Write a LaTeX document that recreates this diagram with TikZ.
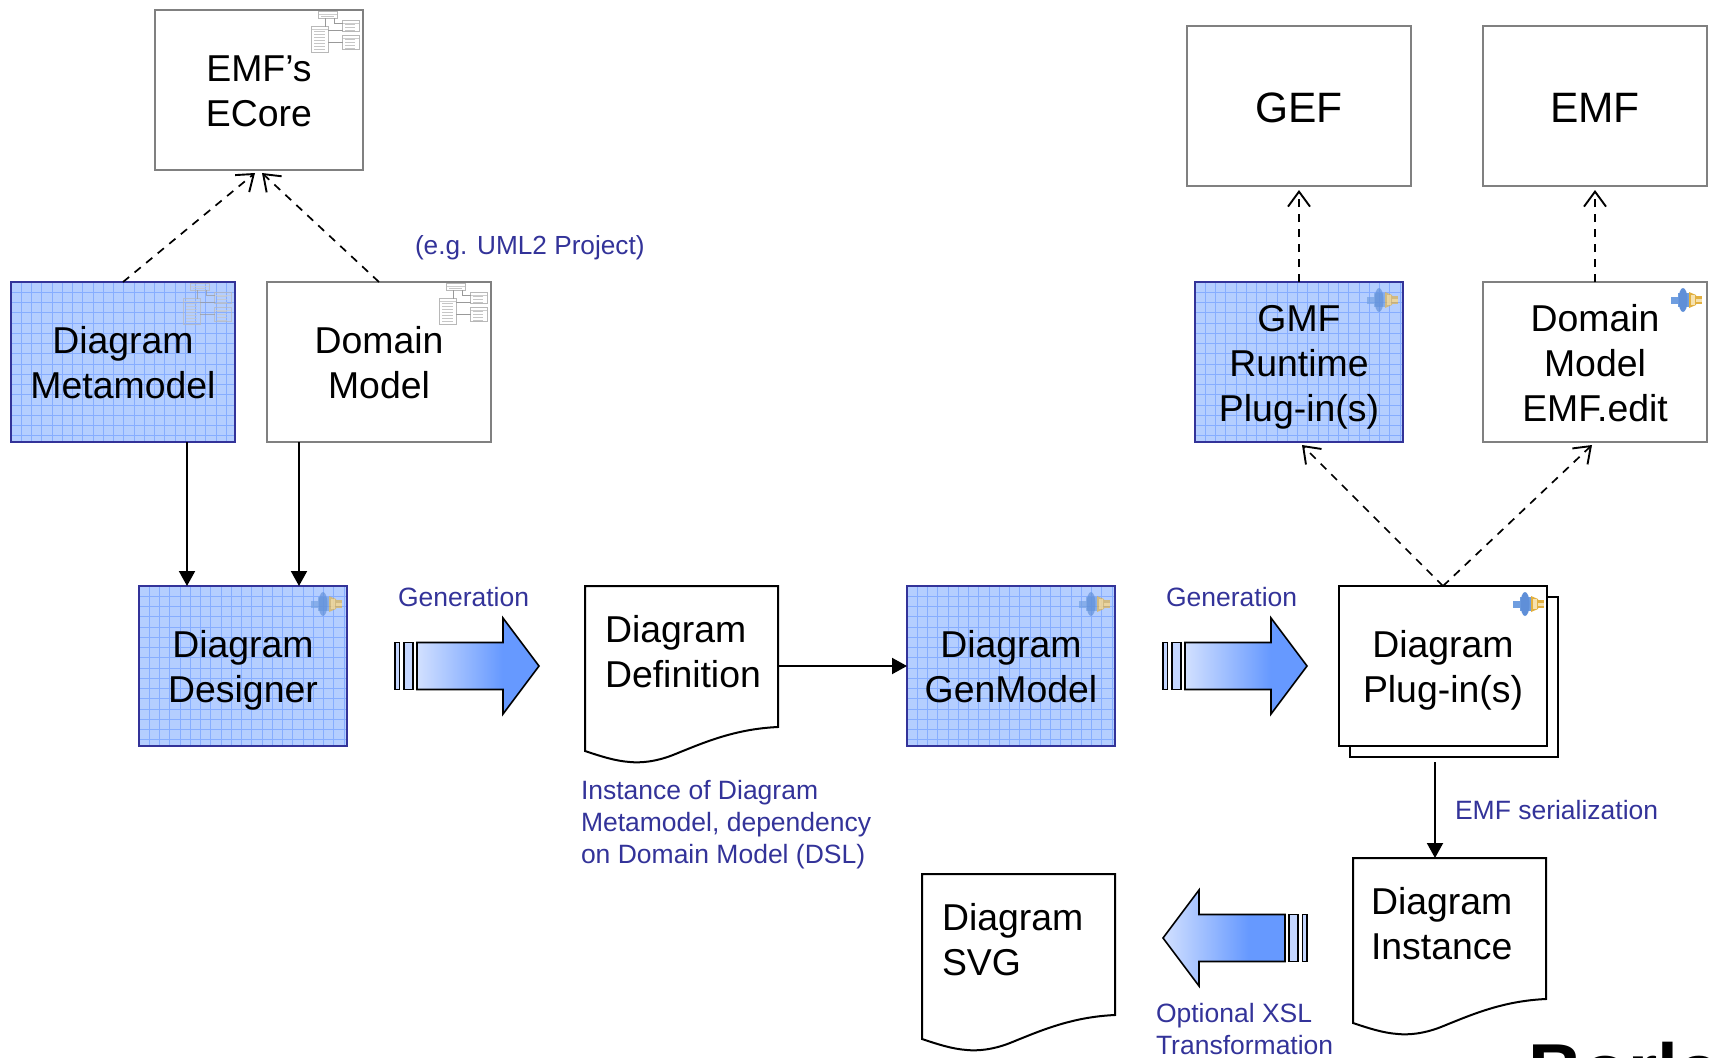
\documentclass[tikz,border=0pt]{standalone}
\usepackage{fontspec}
\setmainfont{Liberation Sans}
\usetikzlibrary{arrows.meta,calc}
\definecolor{lbl}{HTML}{333399}
\definecolor{bluefill}{HTML}{B4CEFF}
\definecolor{gridc}{HTML}{86ADFF}
\definecolor{frameg}{HTML}{808080}
\definecolor{shadeA}{HTML}{D2E0FF}
\definecolor{shadeB}{HTML}{6699FF}
\definecolor{stripc}{HTML}{C4D6FF}
\definecolor{plugA}{HTML}{6F9EE0}
\definecolor{plugB}{HTML}{5F8FD8}
\definecolor{plugC}{HTML}{E2B040}
\definecolor{plugD}{HTML}{F6E2B0}
\definecolor{umlg}{HTML}{B8B8B8}
\pgfdeclarehorizontalshading{blockshade}{100bp}{color(0bp)=(shadeA); color(25bp)=(shadeA); color(60bp)=(shadeB); color(100bp)=(shadeB)}
\newcommand\tp[1]{\rule{0pt}{#1pt}}
\newcommand\bt[1]{\rule[-#1pt]{0pt}{#1pt}}
\newcommand\dl{\hspace*{9.5pt}}
\newcommand\umlf{white}
\tikzset{
  x=1pt,y=-1pt,
  base box/.style={rectangle,inner sep=0pt,outer sep=0pt,minimum height=160pt,
    font=\fontsize{37.4}{45}\selectfont,align=center},
  graybox/.style={base box,draw=frameg,line width=2pt,fill=white},
  bluebox/.style={base box,draw=lbl,line width=2.5pt,fill=bluefill,
    path picture={
      \foreach \i in {1,...,21}{
        \draw[gridc,line width=.8pt] ([xshift=\i*10.25pt]path picture bounding box.north west) -- ([xshift=\i*10.25pt]path picture bounding box.south west);}
      \foreach \i in {1,...,15}{
        \draw[gridc,line width=.8pt] ([yshift=-\i*10.25pt]path picture bounding box.north west) -- ([yshift=-\i*10.25pt]path picture bounding box.north east);}
    }},
  pagebox/.style={base box,draw=black,line width=2pt,fill=white},
  docframe/.style={base box,minimum width=193pt,align=left,text width=172pt},
  note/.style={inner sep=0pt,outer sep=0pt,text=lbl,align=left,anchor=west,
    font=\fontsize{26.5}{32}\selectfont},
  solidarrow/.style={draw=black,line width=2pt,-{Triangle[length=15pt,width=16pt]}},
  deparrow/.style={draw=black,line width=1.7pt,dash pattern=on 8pt off 7pt,
    -{Straight Barb[length=15pt,width=22pt,line width=1.9pt]}},
  docshape/.pic={
    \draw[black,line width=2pt,fill=white] (0,0) -- (193,0) -- (193,141)
      .. controls (150,143) and (120,156) .. (88,169)
      .. controls (70,176) and (55,177) .. (45,176)
      .. controls (30,175) and (15,170) .. (0,165) -- cycle;
  },
  blockarrow/.pic={
    \draw[black,line width=1.6pt,fill=stripc] (0,-23.5) rectangle (4.5,23.5);
    \draw[black,line width=1.6pt,fill=stripc] (9,-23.5) rectangle (18,23.5);
    \draw[black,line width=1.6pt,shading=blockshade]
      (22,-23.5) -- (108,-23.5) -- (108,-48) -- (144,0) -- (108,48) -- (108,23.5) -- (22,23.5) -- cycle;
  },
  umlicon/.pic={
    \foreach \a/\b/\c/\d in {-44.3/1.3/-25.7/8,-20.3/10.7/-4/21.7,-51.3/16.7/-34.7/42.3,-20.3/25.7/-4/39.7}{
      \draw[umlg,line width=.7pt,fill=\umlf] (\a,\b) rectangle (\c,\d);
      \draw[umlg!70,line width=.5pt] (\a,\b+3) -- (\c,\b+3);
    }
    \foreach \y in {21,24,27,30,33,36,39}{\draw[umlg!80,line width=.6pt] (-49,\y) -- (-38,\y);}
    \foreach \y in {14,17,20,29,32,35,38}{\draw[umlg!80,line width=.6pt] (-18,\y) -- (-8,\y);}
    \draw[umlg!80,line width=.6pt] (-42,6) -- (-29,6);
    \draw[gray!80,line width=.5pt] (-38,8) -- (-38,16.7) (-29,8) -- (-29,13) -- (-20.3,13)
      (-34.7,20) -- (-20.3,20) (-34.7,32) -- (-20.3,32);
  },
  plugicon/.pic={
    \fill[plugA] (-36,14.5) rectangle (-29,21.5);
    \fill[plugA] (-29,11) rectangle (-18,25);
    \fill[plugB] (-24,18) ellipse (4.5 and 12);
    \fill[plugC] (-18,10) -- (-11,13) -- (-11,23) -- (-18,26) -- cycle;
    \fill[plugD] (-16,13) rectangle (-12,23);
    \fill[plugC] (-11,14) rectangle (-5,22);
    \fill[plugD] (-11,16.5) rectangle (-5,19.5);
  },
}
\begin{document}
\begin{tikzpicture}
\useasboundingbox (0,0) rectangle (1709,1058);
% boxes
\node[graybox,minimum width=208pt] (ecore) at (259,90) {\tp{36}EMF’s\\ECore\bt{9}};
\node[bluebox,minimum width=224pt] (meta) at (123,362) {\tp{37}Diagram\\Metamodel\bt{9}};
\node[graybox,minimum width=224pt] (domain) at (379,362) {\tp{37}Domain\\Model\bt{9}};
\node[graybox,minimum width=224pt,font=\fontsize{42.5}{45}\selectfont] (gef) at (1299,106) {\tp{41}GEF\bt{9}};
\node[graybox,minimum width=224pt,font=\fontsize{42.5}{45}\selectfont] (emf) at (1595,106) {\tp{41}EMF\bt{9}};
\node[bluebox,minimum width=208pt] (gmf) at (1299,362) {\tp{37}GMF\\Runtime\\Plug-in(s)\bt{9}};
\node[graybox,minimum width=224pt] (emfedit) at (1595,362) {\tp{37}Domain\\Model\hspace*{10pt}\\EMF.edit\bt{9}};
\node[bluebox,minimum width=208pt] (designer) at (243,666) {\tp{37}Diagram\\Designer\bt{9}};
\node[bluebox,minimum width=208pt] (genmodel) at (1011,666) {\tp{37}Diagram\\GenModel\bt{9}};
\node[pagebox,minimum width=208pt] (pluginback) at (1454,677) {};
\node[pagebox,minimum width=208pt] (plugin) at (1443,666) {\tp{37}Diagram\\Plug-in(s)\bt{9}};
% documents
\coordinate (defcorner) at (585,586);
\coordinate (instcorner) at (1353,858);
\coordinate (svgcorner) at (922,874);
\pic at (defcorner) {docshape};
\pic at (instcorner) {docshape};
\pic at (svgcorner) {docshape};
\node[docframe] (def) at (681.5,666) {\tp{28}\dl Diagram\\\dl Definition\bt{31}};
\node[docframe,text width=157pt] (inst) at (1449.5,938) {\tp{28}Diagram\\Instance\bt{31}};
\node[docframe] (svg) at (1018.5,954) {\tp{28}\dl Diagram\\\dl SVG\bt{31}};
% icons
\pic at (ecore.north east) {umlicon};
\pic at (domain.north east) {umlicon};
\begin{scope}[opacity=.7]
\renewcommand\umlf{none}
\pic at (meta.north east) {umlicon};
\end{scope}
\pic at (emfedit.north east) {plugicon};
\pic at ([xshift=2pt]plugin.north east) {plugicon};
\begin{scope}[opacity=.65]
\pic at (designer.north east) {plugicon};
\pic at (genmodel.north east) {plugicon};
\pic at (gmf.north east) {plugicon};
\end{scope}
% block arrows
\coordinate (blockA) at (395,666);
\coordinate (blockB) at (1163,666);
\coordinate (blockC) at (1307,938);
\pic at (blockA) {blockarrow};
\pic at (blockB) {blockarrow};
\pic[xscale=-1] at (blockC) {blockarrow};
% connectors
\draw[deparrow] (meta.north) -- ([xshift=-4pt,yshift=-3pt]ecore.south);
\draw[deparrow] (domain.north) -- ([xshift=3pt,yshift=-3pt]ecore.south);
\draw[deparrow] (gmf.north) -- ([yshift=-4pt]gef.south);
\draw[deparrow] (emfedit.north) -- ([yshift=-4pt]emf.south);
\draw[deparrow] (plugin.north) -- ([xshift=3pt,yshift=-3pt]gmf.south);
\draw[deparrow] (plugin.north) -- ([xshift=-3pt,yshift=-3pt]emfedit.south);
\draw[solidarrow] ([xshift=64pt]meta.south) -- ([xshift=-56pt]designer.north);
\draw[solidarrow] ([xshift=-80pt]domain.south) -- ([xshift=56pt]designer.north);
\draw[solidarrow] (def.east) -- (genmodel.west);
\draw[solidarrow] ([xshift=-19pt,yshift=-5pt]pluginback.south) -- ([xshift=-14.5pt]inst.north);
% notes
\node[note,font=\fontsize{26.2}{32}\selectfont] (n1) at (415,248) {(e.g. UML2 Project)};
\node[note] (n2) at (398,597) {Generation};
\node[note] (n3) at (1166,597) {Generation};
\node[note] (n4) at (581,825) {Instance of Diagram\\Metamodel, dependency\\on Domain Model (DSL)};
\node[note] (n5) at (1455,810) {EMF serialization};
\node[note] (n6) at (1156,1029) {Optional XSL\\Transformation};
\node[inner sep=0pt,anchor=base west,font=\fontsize{75}{80}\selectfont\bfseries] (logo) at (1528,1096) {Borland};
\end{tikzpicture}
\end{document}
